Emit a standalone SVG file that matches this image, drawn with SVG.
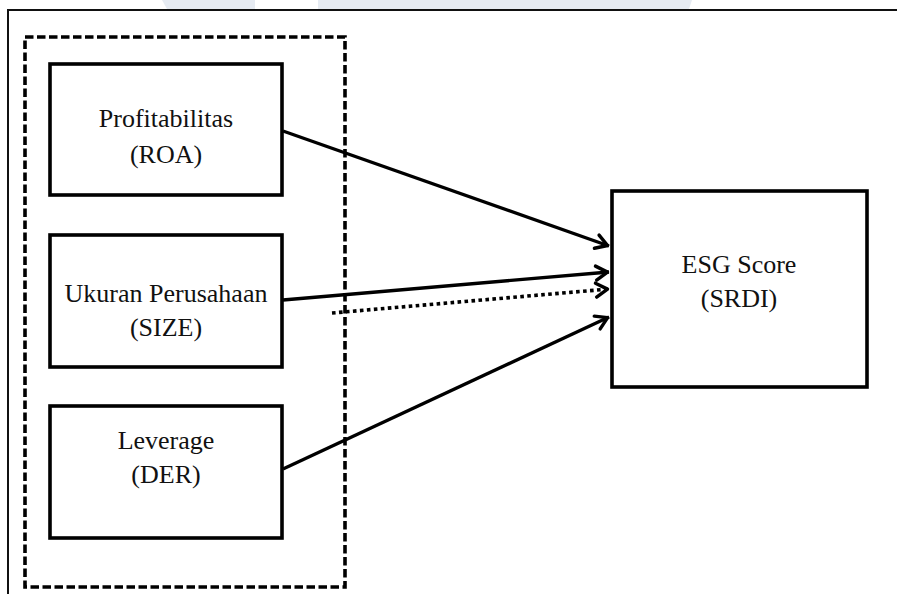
<svg xmlns="http://www.w3.org/2000/svg" width="897" height="594" viewBox="0 0 897 594">
  <style>
    .box { fill: #ffffff; stroke: #000000; stroke-width: 3.6; }
    .lbl { font-family: "Liberation Serif", "Times New Roman", serif; font-size: 26px; fill: #111111; text-anchor: middle; }
    .conn { stroke: #000000; stroke-width: 3.3; fill: none; }
    .dot { stroke-width: 3.6; stroke-dasharray: 3.6 3.4; }
    .wm { fill: #e6ebf2; }
  </style>
  <defs>
    <marker id="arr" markerUnits="userSpaceOnUse" viewBox="-18 -10 20 20" refX="0" refY="0" markerWidth="20" markerHeight="20" orient="auto">
      <path d="M-13,-7 L-1.5,0 L-13,7" fill="none" stroke="#000000" stroke-width="3.4" stroke-linecap="round" stroke-linejoin="round"/>
    </marker>
  </defs>
  <rect width="897" height="594" fill="#ffffff"/>
  <g id="watermark">
    <polygon class="wm" points="162,0 255,0 255,9 167,9"/>
    <polygon class="wm" points="318,0 692,0 689,9 318,9"/>
  </g>
  <path id="frame" d="M8,594 V10 H897" fill="none" stroke="#111111" stroke-width="2"/>
  <g id="group-independent">
    <rect x="25" y="37" width="320" height="550" fill="none" stroke="#000000" stroke-width="3.6" stroke-dasharray="8.5 3.5"/>
  </g>
  <g id="connectors">
    <line class="conn" x1="283" y1="131" x2="609" y2="246" marker-end="url(#arr)"/>
    <line class="conn" x1="283" y1="300" x2="609" y2="272" marker-end="url(#arr)"/>
    <line class="conn dot" x1="332" y1="313" x2="609" y2="289" marker-end="url(#arr)"/>
    <line class="conn" x1="283" y1="469" x2="609" y2="317" marker-end="url(#arr)"/>
  </g>
  <g id="node-roa">
    <rect class="box" x="50" y="64" width="232" height="131"/>
    <text class="lbl" x="166" y="127">Profitabilitas</text>
    <text class="lbl" x="166" y="163">(ROA)</text>
  </g>
  <g id="node-size">
    <rect class="box" x="50" y="235" width="232" height="132"/>
    <text class="lbl" x="166" y="302">Ukuran Perusahaan</text>
    <text class="lbl" x="166" y="336">(SIZE)</text>
  </g>
  <g id="node-der">
    <rect class="box" x="50" y="406" width="232" height="132"/>
    <text class="lbl" x="166" y="449">Leverage</text>
    <text class="lbl" x="166" y="483">(DER)</text>
  </g>
  <g id="node-esg">
    <rect class="box" x="612" y="191" width="255" height="196"/>
    <text class="lbl" x="739" y="273">ESG Score</text>
    <text class="lbl" x="739" y="307">(SRDI)</text>
  </g>
</svg>
